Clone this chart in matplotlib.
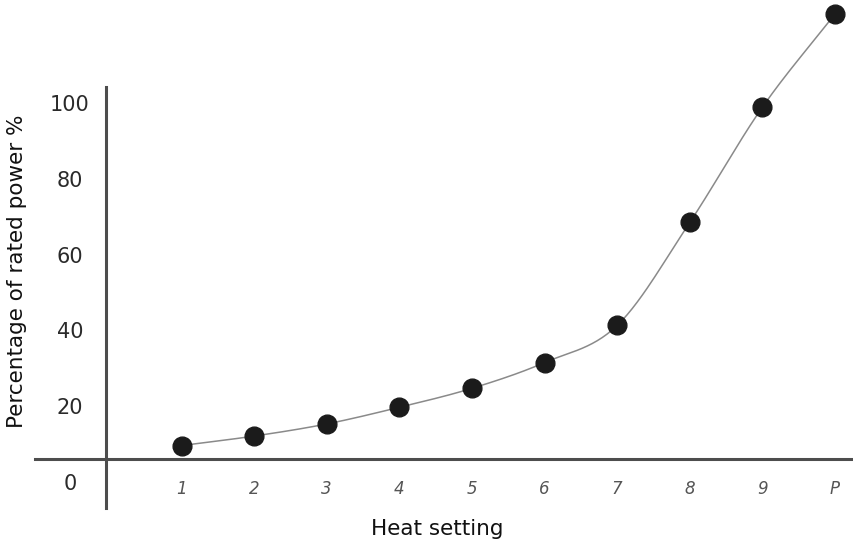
import numpy as np
import matplotlib
matplotlib.use("Agg")
import matplotlib.pyplot as plt

# heat settings and percentage of rated power
settings = ["1", "2", "3", "4", "5", "6", "7", "8", "9", "P"]
power = [9.6, 12.1, 15.3, 19.7, 24.7, 31.5, 41.3, 68.5, 98.9, 123.5]
yticks = [0, 20, 40, 60, 80, 100]


def catmull_rom(x, y, n=30):
    # smooth curve through the points (cardinal spline, tension 0)
    x = np.asarray(x, float)
    y = np.asarray(y, float)
    px = np.concatenate([[2 * x[0] - x[1]], x, [2 * x[-1] - x[-2]]])
    py = np.concatenate([[2 * y[0] - y[1]], y, [2 * y[-1] - y[-2]]])
    xs, ys = [], []
    t = np.linspace(0, 1, n)
    for i in range(1, len(px) - 2):
        for p, out in ((px, xs), (py, ys)):
            p0, p1, p2, p3 = p[i - 1], p[i], p[i + 1], p[i + 2]
            out.extend(0.5 * ((2 * p1) + (-p0 + p2) * t
                              + (2 * p0 - 5 * p1 + 4 * p2 - p3) * t ** 2
                              + (-p0 + 3 * p1 - 3 * p2 + p3) * t ** 3))
    return np.array(xs), np.array(ys)


x = np.arange(1, len(settings) + 1)

fig = plt.figure(figsize=(8.54, 5.41), dpi=100)
ax = fig.add_axes([0, 0, 1, 1])
ax.set_xlim(-1.501, 10.262)
ax.set_ylim(-15.6, 127.2)

cx, cy = catmull_rom(x, power)
ax.plot(cx, cy, color="#8a8a8a", lw=1.1, zorder=2, clip_on=False)
ax.plot(x, power, "o", color="#1b1b1b", ms=13.5, zorder=3, clip_on=False)

axis_col = "#4d4d4d"
for side in ["top", "right"]:
    ax.spines[side].set_visible(False)
ax.spines["left"].set_position(("data", -0.04))
ax.spines["bottom"].set_position(("data", 6.07))
ax.spines["left"].set_bounds(-6.9, 104.3)
ax.spines["bottom"].set_bounds(-1.02, 10.262)
for side in ["left", "bottom"]:
    ax.spines[side].set_color(axis_col)
    ax.spines[side].set_linewidth(2.2)

ax.set_yticks(yticks)
ax.set_yticklabels([str(v) for v in yticks])
ax.tick_params(axis="y", length=0, pad=26, labelsize=15, labelcolor="#2a2a2a")
for lab in ax.get_yticklabels():
    lab.set_horizontalalignment("center")

ax.set_xticks(x)
ax.set_xticklabels(settings, fontstyle="italic", fontweight="light")
ax.tick_params(axis="x", length=0, pad=15, labelsize=12, labelcolor="#555555")

fig.text(17 / 854, 1 - 271 / 541, "Percentage of rated power %", rotation=90,
         ha="center", va="center", fontsize=15.5, color="#111111")
fig.text(437 / 854, 1 - 529 / 541, "Heat setting", ha="center", va="center",
         fontsize=15.5, color="#111111")

fig.savefig("out.png", dpi=100)
